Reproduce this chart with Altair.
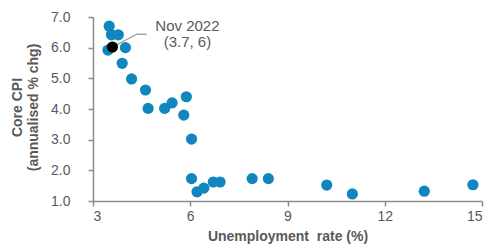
import altair as alt
import pandas as pd

# Data
unemp = [3.5, 3.57, 3.78, 3.46, 4.0, 3.9, 4.19, 4.62, 4.7, 5.21, 5.44, 5.88, 5.8,
         6.04, 6.04, 6.21, 6.42, 6.71, 6.92, 7.91, 8.41, 10.21, 11.0, 13.22, 14.72]
cpi = [6.7, 6.42, 6.42, 5.92, 6.0, 5.49, 4.98, 4.62, 4.02, 4.02, 4.2, 4.4, 3.8,
       3.02, 1.73, 1.3, 1.42, 1.62, 1.62, 1.73, 1.73, 1.52, 1.23, 1.32, 1.53]

latest_x = [3.6]
latest_y = [6.02]
latest_label = ["Nov 2022", "(3.7, 6)"]

leader_x = [3.6, 4.35, 4.66]
leader_y = [6.02, 6.44, 6.44]

x_ticks = [3, 6, 9, 12, 15]
y_ticks = [1, 2, 3, 4, 5, 6, 7]

BLUE = "#0f86bd"
GREY = "#595959"
FONT = "Liberation Sans"

rows = []
for u, c in zip(unemp, cpi):
    rows.append({"u": u, "c": c, "kind": "obs", "o": 0})
for u, c in zip(latest_x, latest_y):
    rows.append({"u": u, "c": c, "kind": "latest", "o": 0})
for i, (u, c) in enumerate(zip(leader_x, leader_y)):
    rows.append({"u": u, "c": c, "kind": "leader", "o": i})
df = pd.DataFrame(rows)

xs = alt.Scale(domain=[3, 15], nice=False)
ys = alt.Scale(domain=[1, 7], nice=False)

x_axis = alt.Axis(values=x_ticks, title="Unemployment\u00a0 rate (%)", grid=False,
                  tickSize=5, labelPadding=3, titlePadding=6, format="d",
                  labelOverlap=False)
y_axis = alt.Axis(values=y_ticks, title=["Core CPI", "(annualised % chg)"], grid=False,
                  tickSize=5, labelPadding=18, format=".1f", labelOverlap=False,
                  titleAngle=-90, titleAlign="center", titleBaseline="top",
                  titleX=-83, titleY=90, titleLineHeight=16)

base = alt.Chart(df).encode(
    x=alt.X("u:Q", scale=xs, axis=x_axis),
    y=alt.Y("c:Q", scale=ys, axis=y_axis),
)

pts = base.transform_filter(alt.datum.kind == "obs").mark_circle(
    size=125, opacity=1, color=BLUE)

lead = base.transform_filter(alt.datum.kind == "leader").mark_line(
    color="#a6a6a6", strokeWidth=1.5).encode(order="o:Q")

black = base.transform_filter(alt.datum.kind == "latest").mark_circle(
    size=125, opacity=1, color="black")

txt = base.transform_filter(alt.datum.kind == "latest").mark_text(
    text=latest_label, align="center", baseline="middle", dx=75, dy=-21,
    fontSize=15, font=FONT, color=GREY, lineHeight=16)

chart = alt.layer(pts, lead, black, txt).properties(
    width=389, height=184,
    padding={"left": 93, "top": 17, "right": 22, "bottom": 49},
    autosize=alt.AutoSizeParams(type="none"),
).configure_view(stroke=None).configure_axis(
    labelFont=FONT, titleFont=FONT, labelFontSize=14, titleFontSize=14,
    labelColor=GREY, titleColor=GREY, titleFontWeight="bold", labelOverlap=False,
    domainColor="#8c8c8c", tickColor="#8c8c8c", domainWidth=1.5, tickWidth=1.5,
)

chart.save("out.html", embed_options={"renderer": "svg", "actions": False})
